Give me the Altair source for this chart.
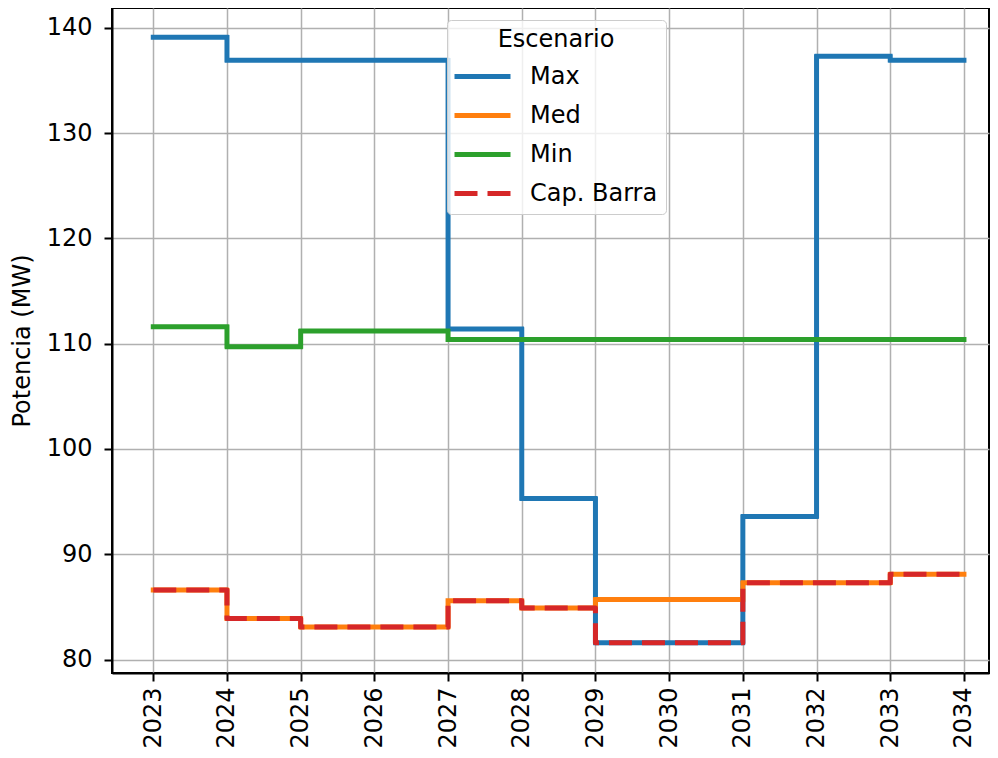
import altair as alt
import pandas as pd

years = list(range(2023, 2035))
series_names = ["Max", "Med", "Min", "Cap. Barra"]
series_colors = ["#1f77b4", "#ff7f0e", "#2ca02c", "#d62728"]
series_dashes = [[1, 0], [1, 0], [1, 0], [23, 10]]

max_vals = [139.1, 136.9, 136.9, 136.9, 111.4, 95.3, 81.6, 81.6, 93.6, 137.3, 136.9, 136.9]
med_vals = [86.6, 83.9, 83.1, 83.1, 85.6, 84.9, 85.7, 85.7, 87.3, 87.3, 88.1, 88.1]
min_vals = [111.6, 109.7, 111.2, 111.2, 110.4, 110.4, 110.4, 110.4, 110.4, 110.4, 110.4, 110.4]
cap_vals = [86.6, 83.9, 83.1, 83.1, 85.6, 84.9, 81.6, 81.6, 87.3, 87.3, 88.1, 88.1]

y_ticks = [80, 90, 100, 110, 120, 130, 140]

rows = []
for name, vals in zip(series_names, [max_vals, med_vals, min_vals, cap_vals]):
    for yr, v in zip(years, vals):
        rows.append({"Año": yr, "Potencia": v, "Escenario": name})
df = pd.DataFrame(rows)

FONT = "DejaVu Sans"

legend = alt.Legend(
    title="Escenario",
    orient="none",
    legendX=335,
    legendY=12,
    symbolType="M-1.3,0H4.3",
    symbolSize=400,
    symbolStrokeWidth=5,
    labelOffset=50,
    labelFontSize=24,
    labelFont=FONT,
    labelColor="black",
    titleFontSize=24,
    titleFont=FONT,
    titleFontWeight="normal",
    titleColor="black",
    titleAnchor="middle",
    padding=8,
    titlePadding=12,
    rowPadding=14,
    fillColor="rgba(255,255,255,0.8)",
    strokeColor="#cccccc",
    cornerRadius=4,
)

color = alt.Color(
    "Escenario:N",
    scale=alt.Scale(domain=series_names, range=series_colors),
    legend=legend,
    sort=series_names,
)
dash = alt.StrokeDash(
    "Escenario:N",
    scale=alt.Scale(domain=series_names, range=series_dashes),
    legend=legend,
    sort=series_names,
)

x = alt.X(
    "Año:Q",
    scale=alt.Scale(domain=[2022.44, 2034.34], nice=False, zero=False),
    axis=alt.Axis(values=years, format="d", labelAngle=-90, title=None, labelPadding=6),
)
y = alt.Y(
    "Potencia:Q",
    scale=alt.Scale(domain=[78.73, 141.87], nice=False, zero=False),
    axis=alt.Axis(values=y_ticks, title="Potencia (MW)", labelPadding=12, titlePadding=12),
)

base = alt.Chart(df).encode(x=x, y=y, color=color, strokeDash=dash)

solid = base.transform_filter(alt.datum.Escenario != "Cap. Barra").mark_line(
    interpolate="step-after", strokeWidth=5, strokeCap="square", strokeJoin="round"
)
dashed = base.transform_filter(alt.datum.Escenario == "Cap. Barra").mark_line(
    interpolate="step-after", strokeWidth=5, strokeCap="butt", strokeJoin="round"
)

chart = (
    alt.layer(solid, dashed)
    .properties(
        width=877,
        height=665,
        padding={"left": 104, "top": 0, "right": 1, "bottom": 77},
        autosize=alt.AutoSizeParams(type="none"),
        background="white",
    )
    .configure_axis(
        grid=True,
        gridColor="#b0b0b0",
        gridWidth=1.5,
        domainColor="black",
        domainWidth=2,
        tickColor="black",
        tickWidth=2,
        tickSize=8,
        labelFontSize=24,
        labelFont=FONT,
        labelColor="black",
        titleFontSize=24,
        titleFont=FONT,
        titleFontWeight="normal",
        titleColor="black",
    )
    .configure_view(stroke="black", strokeWidth=2)
)

chart.save("out.html", embed_options={"renderer": "svg", "actions": False})
